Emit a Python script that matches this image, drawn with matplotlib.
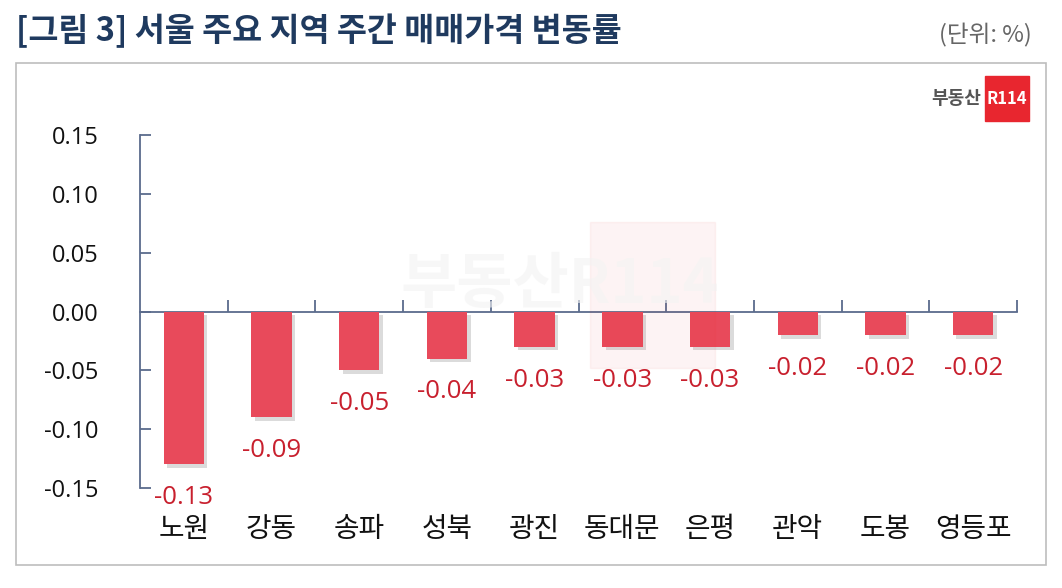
import matplotlib.pyplot as plt
import matplotlib.patheffects as pe
from matplotlib.patches import Rectangle
from matplotlib.transforms import blended_transform_factory

plt.rcParams['font.family'] = ['Noto Sans CJK KR', 'DejaVu Sans']

regions = ['노원', '강동', '송파', '성북', '광진', '동대문', '은평', '관악', '도봉', '영등포']
changes = [-0.13, -0.09, -0.05, -0.04, -0.03, -0.03, -0.03, -0.02, -0.02, -0.02]
yticks = [0.15, 0.10, 0.05, 0.00, -0.05, -0.10, -0.15]

bar_color = '#E84A5B'
label_color = '#C8202E'
axis_color = '#5B6B8C'

fig = plt.figure(figsize=(10.62, 5.88), dpi=100)
fig.patches.append(Rectangle((16 / 1062, 1 - 565 / 588), 1030 / 1062, 502 / 588,
                             transform=fig.transFigure, fill=False,
                             edgecolor='#BDBDBD', linewidth=1.2))

fig.text(16 / 1062, 1 - 31 / 588, '[그림 3] 서울 주요 지역 주간 매매가격 변동률',
         fontsize=23.5, fontweight='bold', color='#1F3A5F', va='center', ha='left')
fig.text(1032 / 1062, 1 - 35 / 588, '(단위: %)', fontsize=17, color='#666666',
         va='center', ha='right')

# logo top right
fig.patches.append(Rectangle((985 / 1062, 1 - 121 / 588), 44 / 1062, 45 / 588,
                             transform=fig.transFigure, color='#E8262F'))
fig.text(1007 / 1062, 1 - 99 / 588, 'R114', fontsize=12, fontweight='bold',
         color='white', ha='center', va='center')
fig.text(981 / 1062, 1 - 99 / 588, '부동산', fontsize=13, fontweight='bold',
         color='#555555', ha='right', va='center')

# watermark
fig.patches.append(Rectangle((590 / 1062, 1 - 368 / 588), 125 / 1062, 146 / 588,
                             transform=fig.transFigure, color='#E8262F',
                             alpha=0.05, zorder=0))
fig.text(560 / 1062, 1 - 285 / 588, '부동산R114', fontsize=44, fontweight='bold',
         color='#F3F3F3', ha='center', va='center', zorder=0, alpha=0.6)

ax = fig.add_axes([140 / 1062, 1 - 488 / 588, 877 / 1062, 353 / 588])
ax.patch.set_alpha(0)

x = list(range(len(regions)))
bars = ax.bar(x, changes, width=0.46, color=bar_color, zorder=3)
for b in bars:
    b.set_path_effects([pe.SimplePatchShadow(offset=(2.5, -2.5), shadow_rgbFace='#999999', alpha=0.35),
                        pe.Normal()])

for xi, v in zip(x, changes):
    ax.annotate(f'{v:.2f}', (xi, v), xytext=(0, -15), textcoords='offset points',
                ha='center', va='top', fontsize=18.5, color=label_color,
                family=['Open Sans', 'DejaVu Sans'])

ax.set_xlim(-0.5, len(regions) - 0.5)
ax.set_ylim(-0.15, 0.15)

for s in ['top', 'right']:
    ax.spines[s].set_visible(False)
ax.spines['bottom'].set_position(('data', 0))
ax.spines['bottom'].set_color(axis_color)
ax.spines['left'].set_color(axis_color)
ax.spines['bottom'].set_linewidth(1.3)
ax.spines['left'].set_linewidth(1.3)

ax.set_yticks(yticks)
ax.set_yticklabels([f'{t:.2f}' for t in yticks], family=['Open Sans', 'DejaVu Sans'])
ax.tick_params(axis='y', direction='in', length=8, width=1.3, color=axis_color,
               labelsize=17, pad=30, labelcolor='#111111')

ax.set_xticks([i + 0.5 for i in x])
ax.set_xticklabels([])
ax.tick_params(axis='x', direction='in', length=9, width=1.3, color=axis_color)

trans = blended_transform_factory(ax.transData, ax.transAxes)
for xi, name in zip(x, regions):
    ax.text(xi, -0.115, name, transform=trans, ha='center', va='center',
            fontsize=20, color='#111111')

fig.savefig('out.png', dpi=100)
